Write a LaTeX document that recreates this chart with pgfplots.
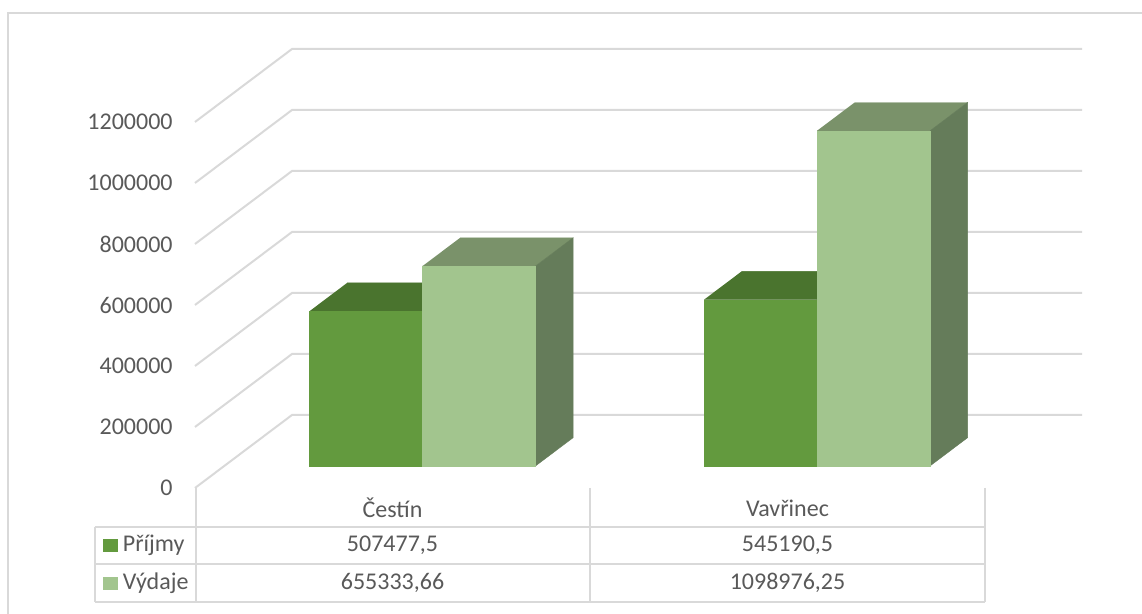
\documentclass[border=0pt]{standalone}
\usepackage{pgfplots}
\pgfplotsset{compat=1.18}
\usepackage{fontspec}
\setmainfont{Carlito}
\definecolor{txt}{HTML}{595959}
\definecolor{gridc}{HTML}{D9D9D9}
\definecolor{pFront}{HTML}{639A3E}
\definecolor{pTop}{HTML}{4A742E}
\definecolor{pSide}{HTML}{4A6B35}
\definecolor{vFront}{HTML}{A2C58E}
\definecolor{vTop}{HTML}{7A926A}
\definecolor{vSide}{HTML}{657C5A}
% oblique depth: bar front plane sits 22px above the floor front edge, bar depth = (37.6px, 28.3px)
\pgfplotsset{table/bar3d/.style={x expr=\thisrow{x}+37.6*\thisrow{d}, y expr=\thisrow{v}+72131.15+92786.9*\thisrow{d}}}
% #1 left x, #2 right x, #3 value, #4 front, #5 top, #6 side
\newcommand\threedbar[6]{%
  \addplot[fill=#5, draw=#5, line width=0.2pt] table[bar3d, row sep=\\] {x v d\\ #1 #3 0\\ #2 #3 0\\ #2 #3 1\\ #1 #3 1\\};
  \addplot[fill=#6, draw=#6, line width=0.2pt] table[bar3d, row sep=\\] {x v d\\ #2 0 0\\ #2 0 1\\ #2 #3 1\\ #2 #3 0\\};
  \addplot[fill=#4, draw=#4, line width=0.2pt] table[bar3d, row sep=\\] {x v d\\ #1 0 0\\ #2 0 0\\ #2 #3 0\\ #1 #3 0\\};
}
\begin{document}
\begin{tikzpicture}
\tikzset{px/.style={x=0.5pt, y=-0.5pt, xshift=-97.5pt, yshift=244pt}}
\def\tfont{\fontsize{12pt}{14pt}\selectfont}
% frame and back-wall gridlines
\begin{scope}[px]
  \draw[gridc, line width=1pt] (8,640) -- (8,12.7) -- (1160,12.7);
  \foreach \g in {0,...,6} {
    \draw[gridc, line width=1pt] (195,488-61*\g) -- (292,415-61*\g) -- (1082,415-61*\g);
  }
\end{scope}
\begin{axis}[
  at={(0,0)}, anchor=south west,
  scale only axis, width=443.5pt, height=220pt,
  xmin=195, xmax=1082, ymin=0, ymax=1442622.95,
  clip=false,
  axis line style={draw=none},
  xtick=\empty,
  ytick={0,200000,400000,600000,800000,1000000,1200000},
  major tick length=0pt,
  scaled y ticks=false,
  yticklabel style={font=\tfont, text=txt, anchor=east, inner sep=0pt, xshift=-11pt,
    /pgf/number format/fixed, /pgf/number format/1000 sep={},
    /pgf/number format/assume math mode=true},
]
  % Čestín
  \threedbar{309.5}{422.5}{507477.5}{pFront}{pTop}{pSide}
  \threedbar{422.5}{535.5}{655333.66}{vFront}{vTop}{vSide}
  % Vavřinec
  \threedbar{704}{817}{545190.5}{pFront}{pTop}{pSide}
  \threedbar{817}{930}{1098976.25}{vFront}{vTop}{vSide}
\end{axis}
% data table
\begin{scope}[px]
  \draw[gridc, line width=1pt] (95,526.7) -- (985,526.7) (95,564.3) -- (985,564.3) (95,602.3) -- (985,602.3);
  \draw[gridc, line width=1pt] (95,526.7) -- (95,602.3) (195.7,488) -- (195.7,602.3) (590,488) -- (590,602.3) (985,488) -- (985,602.3);
  \node[font=\tfont, text=txt] at (392.5,508) {Čestín};
  \node[font=\tfont, text=txt] at (787.5,508) {Vavřinec};
  \fill[pFront] (103.3,539.3) rectangle (118.3,552);
  \node[font=\tfont, text=txt, anchor=west, inner sep=0pt] at (122.5,545.5) {Příjmy};
  \fill[vFront] (103.3,577) rectangle (118.3,589.7);
  \node[font=\tfont, text=txt, anchor=west, inner sep=0pt] at (122.5,583.3) {Výdaje};
  \node[font=\tfont, text=txt] at (392.5,545.5) {507477,5};
  \node[font=\tfont, text=txt] at (787.5,545.5) {545190,5};
  \node[font=\tfont, text=txt] at (392.5,583.3) {655333,66};
  \node[font=\tfont, text=txt] at (787.5,583.3) {1098976,25};
  \pgfresetboundingbox
  \path[use as bounding box] (0,0) rectangle (1142,614);
\end{scope}
\end{tikzpicture}
\end{document}
